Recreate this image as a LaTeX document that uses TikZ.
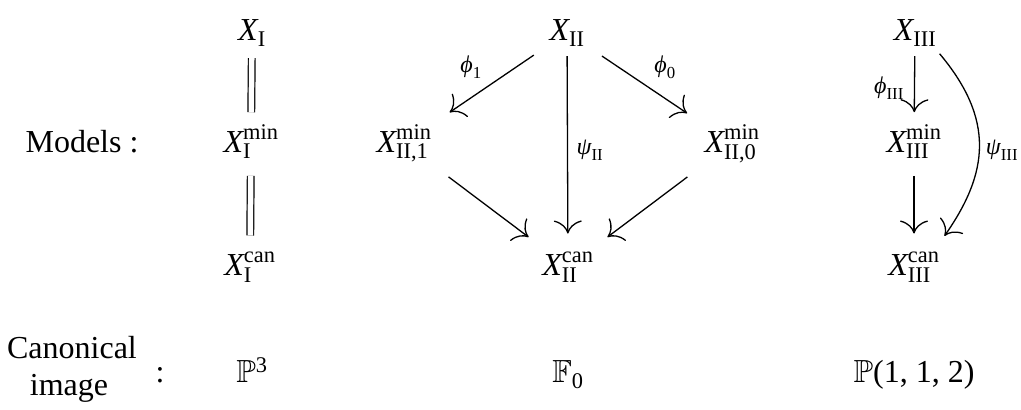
\documentclass[tikz,border=0pt]{standalone}
\usepackage{amsmath,amssymb}
\usepackage{fontspec}
\setmainfont{Liberation Serif}
\usetikzlibrary{arrows.meta}
\tikzset{
  obj/.style={inner sep=0pt, outer sep=0pt, font=\fontsize{32}{38}\selectfont, anchor=base},
  lbl/.style={inner sep=0pt, outer sep=0pt, font=\fontsize{24}{28}\selectfont},
  map/.style={line width=1.3pt, -{Computer Modern Rightarrow[length=13pt,width=28pt]}},
  eqline/.style={double, double distance=5.5pt, line width=1.2pt},
}
\begin{document}
\begin{tikzpicture}[x=1pt,y=-1pt]
\useasboundingbox (0,0) rectangle (1021,410);
% row labels
\node[obj] (models) at (82,152) {Models :};
\node[obj] (canon) at (72,358) {Canonical};
\node[obj] (image) at (69,395) {image};
\node[obj] (colon) at (160,382) {:};
% column I
\node[obj] (X1) at (252,40) {$\textit{X}_{\text{I}}$};
\node[obj] (X1m) at (251,152) {$\textit{X}^{\text{min}}_{\text{I}}$};
\node[obj] (X1c) at (250,275) {$\textit{X}^{\text{can}}_{\text{I}}$};
\node[obj] (P3) at (252,382) {$\mathbb{P}^{\text{3}}$};
% column II
\node[obj] (X2) at (567,40) {$\textit{X}_{\text{II}}$};
\node[obj] (X21) at (404,152) {$\textit{X}^{\text{min}}_{\text{II,1}}$};
\node[obj] (X20) at (732,152) {$\textit{X}^{\text{min}}_{\text{II,0}}$};
\node[obj] (X2c) at (568,275) {$\textit{X}^{\text{can}}_{\text{II}}$};
\node[obj] (F0) at (568,382) {$\mathbb{F}_{\text{0}}$};
% column III
\node[obj] (X3) at (915,40) {$\textit{X}_{\text{III}}$};
\node[obj] (X3m) at (914,152) {$\textit{X}^{\text{min}}_{\text{III}}$};
\node[obj] (X3c) at (914,275) {$\textit{X}^{\text{can}}_{\text{III}}$};
\node[obj] (P112) at (914,382) {$\mathbb{P}$(1, 1, 2)};
% labels
\node[lbl] (l1) at (471,67) {$\textit{ϕ}_{\text{1}}$};
\node[lbl] (l0) at (665,67) {$\textit{ϕ}_{\text{0}}$};
\node[lbl] (lpsi2) at (590,150) {$\textit{ψ}_{\text{II}}$};
\node[lbl] (lphi3) at (889,88) {$\textit{ϕ}_{\text{III}}$};
\node[lbl] (lpsi3) at (1002,150) {$\textit{ψ}_{\text{III}}$};
% equalities
\draw[eqline, shorten <=12pt, shorten >=12pt] (X1) -- (X1m);
\draw[eqline, shorten <=17pt, shorten >=16pt] (X1m) -- (X1c);
% arrows II
\draw[map, shorten <=19pt, shorten >=22pt] (X2) -- (X21);
\draw[map, shorten <=21pt, shorten >=21pt] (X2) -- (X20);
\draw[map, shorten <=24pt, shorten >=24pt] (X21) -- (X2c);
\draw[map, shorten <=24pt, shorten >=24pt] (X20) -- (X2c);
\draw[map, shorten <=10pt, shorten >=18pt] (X2) -- (X2c);
% arrows III
\draw[map, shorten <=10pt, shorten >=12pt] (X3) -- (X3m);
\draw[map, shorten <=17pt, shorten >=18pt] (X3m) -- (X3c);
\draw[map, shorten <=10pt, shorten >=19pt] ([xshift=-3pt]X3.south east) to[out=-50, in=55, looseness=1.2] ([xshift=-6pt]X3c.north east);
\end{tikzpicture}
\end{document}
